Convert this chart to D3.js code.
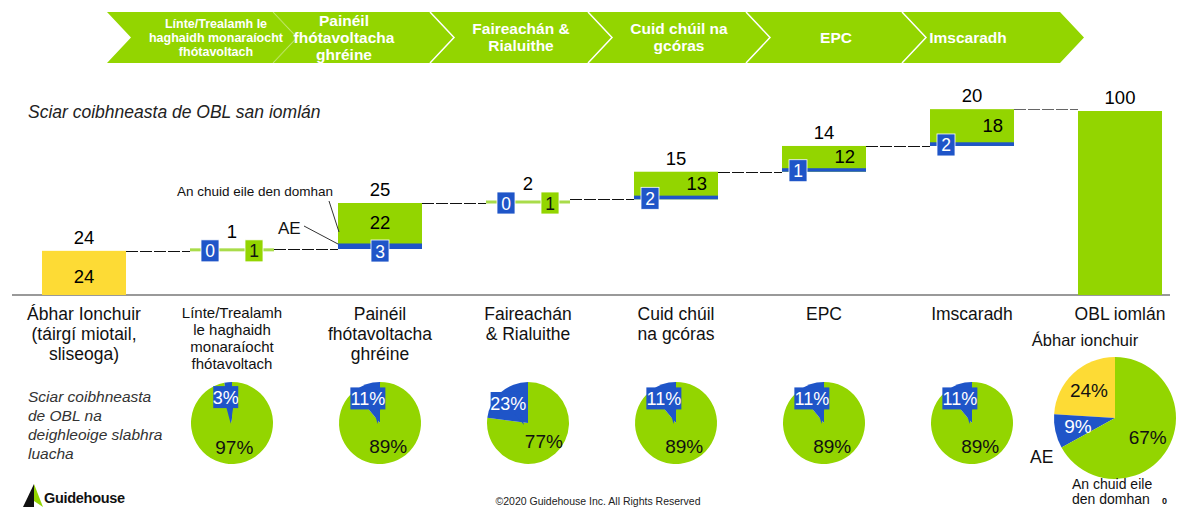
<!DOCTYPE html>
<html>
<head>
<meta charset="utf-8">
<script src="https://cdn.jsdelivr.net/npm/d3@7"></script>
<style>
  body { margin: 0; background: #fff; }
  svg { font-family: "Liberation Sans", Arial, sans-serif; }
</style>
</head>
<body>
<div id="chart"></div>
<script>
// value chain steps (chevrons)
const steps = [
    ["Línte/Trealamh le", "haghaidh monaraíocht", "fhótavoltach"],
    ["Painéil", "fhótavoltacha", "ghréine"],
    ["Faireachán &", "Rialuithe"],
    ["Cuid chúil na", "gcóras"],
    ["EPC"],
    ["Imscaradh"]
];

// waterfall categories
const categories = [
    ["Ábhar Ionchuir", "(táirgí miotail,", "sliseoga)"],
    ["Línte/Trealamh", "le haghaidh", "monaraíocht", "fhótavoltach"],
    ["Painéil", "fhótavoltacha", "ghréine"],
    ["Faireachán", "& Rialuithe"],
    ["Cuid chúil", "na gcóras"],
    ["EPC"],
    ["Imscaradh"],
    ["OBL iomlán"]
];
const totals = [24, 1, 25, 2, 15, 14, 20, 100];
const aeValues = [null, 0, 3, 0, 2, 1, 2, null];
const restValues = [24, 1, 22, 1, 13, 12, 18, 100];

// pie shares (AE share of each segment)
const pieAE = [3, 11, 23, 11, 11, 11];
const pieRest = [97, 89, 77, 89, 89, 89];
// input material total pie
const bigPieLabels = ["Ábhar ionchuir", "AE", "An chuid eile den domhan"];
const bigPieValues = [24, 9, 67];

const W = 1181, H = 508;
const green = "#93d500", blue = "#1f55c8", yellow = "#fddb35";

const svg = d3.select("#chart").append("svg")
    .attr("width", W)
    .attr("height", H);

// ---------- chevrons ----------
const chevStarts = [107, 273, 430, 588, 746, 902, 1060];
const chevTextX = [216, 344, 521, 679, 836, 968];
const tip = 24, cTop = 12, cBot = 63, cMid = 37.5;

steps.forEach((lines, i) => {
    const s = chevStarts[i], e = chevStarts[i + 1];
    const pts = [[s, cTop], [e, cTop], [e + tip, cMid], [e, cBot], [s, cBot], [s + tip, cMid]];
    svg.append("polygon")
        .attr("points", pts.map(p => p.join(",")).join(" "))
        .attr("fill", green);
});
steps.forEach((lines, i) => {
    if (i === 0) return;
    const s = chevStarts[i];
    svg.append("polyline")
        .attr("points", `${s},${cTop} ${s + tip},${cMid} ${s},${cBot}`)
        .attr("fill", "none")
        .attr("stroke", "#fff")
        .attr("stroke-opacity", i === 1 ? 0.2 : 1)
        .attr("stroke-width", 1.5);
});
steps.forEach((lines, i) => {
    const fs = i === 0 ? 12.5 : 15.5;
    const lh = i === 0 ? 14 : 17;
    const y0 = cMid - (lines.length - 1) * lh / 2 + fs * 0.35;
    const t = svg.append("text")
        .attr("text-anchor", "middle")
        .attr("fill", "#fff")
        .attr("font-weight", "bold")
        .attr("font-size", fs);
    lines.forEach((l, j) => {
        t.append("tspan").attr("x", chevTextX[i]).attr("y", y0 + j * lh).text(l);
    });
});

// ---------- waterfall ----------
const x = d3.scaleBand()
    .domain(d3.range(categories.length))
    .range([42, 1162])
    .paddingInner(64 / 148);
const y = d3.scaleLinear().domain([0, 100]).range([295, 111]);
const bw = x.bandwidth();

svg.append("text")
    .attr("x", 28).attr("y", 118)
    .attr("font-size", 17.5).attr("font-style", "italic").attr("fill", "#222")
    .text("Sciar coibhneasta de OBL san iomlán");

// running bases
const bases = [];
let run = 0;
totals.forEach((t, i) => {
    if (i === 0 || i === totals.length - 1) { bases.push(0); run = (i === 0 ? t : run); }
    else { bases.push(run); run += t; }
});
const tops = totals.map((t, i) => bases[i] + t);

// connectors
for (let i = 0; i < totals.length - 1; i++) {
    svg.append("line")
        .attr("x1", x(i) + bw).attr("x2", x(i + 1))
        .attr("y1", Math.round(y(tops[i])) + 0.5).attr("y2", Math.round(y(tops[i])) + 0.5)
        .attr("stroke", i === totals.length - 2 ? "#666" : "#111").attr("stroke-width", 1)
        .attr("stroke-dasharray", "12,2");
}

// axis line
svg.append("line")
    .attr("x1", 12).attr("x2", 1170)
    .attr("y1", y(0)).attr("y2", y(0))
    .attr("stroke", "#777").attr("stroke-width", 1.5);

function box(cx, cy, txt, fill, color) {
    const g = svg.append("g");
    g.append("rect")
        .attr("x", cx - 9).attr("y", cy - 11)
        .attr("width", 18).attr("height", 22)
        .attr("fill", fill)
        .attr("stroke", "#fff").attr("stroke-width", 0.8);
    g.append("text")
        .attr("x", cx).attr("y", cy + 6.5)
        .attr("text-anchor", "middle")
        .attr("font-size", 17.5)
        .attr("fill", color)
        .text(txt);
}

const numFs = 18.5;
totals.forEach((t, i) => {
    const x0 = x(i), cx = x0 + bw / 2;
    const b = bases[i];
    if (i === 0) {
        svg.append("rect").attr("x", x0).attr("y", y(t)).attr("width", bw)
            .attr("height", y(0) - y(t)).attr("fill", yellow);
        svg.append("text").attr("x", cx).attr("y", (y(0) + y(t)) / 2 + 10)
            .attr("text-anchor", "middle").attr("font-size", numFs).text(restValues[i]);
        svg.append("text").attr("x", cx).attr("y", y(t) - 7)
            .attr("text-anchor", "middle").attr("font-size", numFs).text(t);
        return;
    }
    if (i === totals.length - 1) {
        svg.append("rect").attr("x", x0).attr("y", y(t)).attr("width", bw)
            .attr("height", y(0) - y(t)).attr("fill", green);
        svg.append("text").attr("x", cx).attr("y", y(t) - 7)
            .attr("text-anchor", "middle").attr("font-size", numFs).text(t);
        return;
    }
    const ae = aeValues[i], rest = restValues[i];
    if (t <= 2) {
        // thin step
        const yb = y(b);
        svg.append("rect").attr("x", x0).attr("y", yb - 2.5).attr("width", bw)
            .attr("height", 3).attr("fill", "#a9dc4a");
        box(cx - 22, yb, ae, blue, "#fff");
        box(cx + 22, yb, rest, green, "#111");
        svg.append("text").attr("x", cx).attr("y", yb - 13)
            .attr("text-anchor", "middle").attr("font-size", numFs).text(t);
        return;
    }
    const aeH = Math.max(y(b) - y(b + ae), 3.5);
    svg.append("rect").attr("x", x0).attr("y", y(b + t)).attr("width", bw)
        .attr("height", y(b) - y(b + t)).attr("fill", green);
    svg.append("rect").attr("x", x0).attr("y", y(b) - aeH).attr("width", bw)
        .attr("height", aeH).attr("fill", blue);
    svg.append("text").attr("x", cx).attr("y", y(b + t) - 7)
        .attr("text-anchor", "middle").attr("font-size", numFs).text(t);
    if (i === 2) {
        svg.append("text").attr("x", cx).attr("y", (y(b + t) + y(b) - aeH) / 2 + 6)
            .attr("text-anchor", "middle").attr("font-size", numFs).text(rest);
        box(cx, y(b) + 2, ae, blue, "#fff");
    } else {
        svg.append("text").attr("x", x0 + bw - 11).attr("y", (y(b + t) + y(b) - aeH) / 2 + 6)
            .attr("text-anchor", "end").attr("font-size", numFs).text(rest);
        box(x0 + 16, y(b) - 1, ae, blue, "#fff");
    }
});

// annotation for Painéil bar
svg.append("text").attr("x", 177).attr("y", 196).attr("font-size", 13.5).attr("fill", "#111")
    .text("An chuid eile den domhan");
svg.append("line").attr("x1", 329).attr("y1", 201).attr("x2", 339).attr("y2", 232)
    .attr("stroke", "#333").attr("stroke-width", 1);
svg.append("text").attr("x", 278).attr("y", 234).attr("font-size", 17).attr("fill", "#111")
    .text("AE");
svg.append("line").attr("x1", 304).attr("y1", 226).attr("x2", 338).attr("y2", 244)
    .attr("stroke", "#333").attr("stroke-width", 1);

// category labels
categories.forEach((lines, i) => {
    const small = i === 1;
    const fs = small ? 15 : 17.5;
    const lh = small ? 17 : 20;
    const t = svg.append("text")
        .attr("text-anchor", "middle")
        .attr("font-size", fs)
        .attr("fill", "#111");
    lines.forEach((l, j) => {
        t.append("tspan").attr("x", x(i) + bw / 2).attr("y", (small ? 318 : 320) + j * lh).text(l);
    });
});

// ---------- pies ----------
const leftNote = ["Sciar coibhneasta", "de OBL na", "deighleoige slabhra", "luacha"];
const nt = svg.append("text").attr("font-size", 15.5).attr("font-style", "italic").attr("fill", "#333");
leftNote.forEach((l, j) => nt.append("tspan").attr("x", 28).attr("y", 402 + j * 19).text(l));

const pieCY = 423, pieR = 41;
const arc = d3.arc().innerRadius(0).outerRadius(pieR);
const labelArc = d3.arc().innerRadius(24).outerRadius(24);

pieAE.forEach((ae, k) => {
    const i = k + 1;
    const cx = x(i) + bw / 2;
    const g = svg.append("g").attr("transform", `translate(${cx},${pieCY})`);
    const aeAng = ae / 100 * 2 * Math.PI;
    const aeArc = { startAngle: -aeAng, endAngle: 0 };
    const restArc = { startAngle: 0, endAngle: 2 * Math.PI - aeAng };
    g.append("path").attr("d", arc(restArc)).attr("fill", green);
    g.append("path").attr("d", arc(aeArc)).attr("fill", blue);

    // blue callout label
    const [lx, ly] = labelArc.centroid(aeArc);
    const bx = lx - 4, by = ly - 2;
    const txt = ae + "%";
    const w = txt.length * 10 + 5, h = 22;
    g.append("path")
        .attr("d", `M${bx + w / 2 - 12},${by + h / 2 - 1} L${bx * 0.2},${by * 0.2 + 6} L${bx + w / 2 - 5},${by + h / 2 - 1} Z`)
        .attr("fill", blue);
    g.append("rect")
        .attr("x", bx - w / 2).attr("y", by - h / 2)
        .attr("width", w).attr("height", h)
        .attr("fill", blue);
    g.append("text").attr("x", bx).attr("y", by + 6.5)
        .attr("text-anchor", "middle").attr("font-size", 18).attr("fill", "#fff").text(txt);

    const [gx, gy] = labelArc.centroid(restArc);
    g.append("text").attr("x", gx).attr("y", gy + 7)
        .attr("text-anchor", "middle").attr("font-size", 19).attr("fill", "#111")
        .text(pieRest[k] + "%");
});

// big pie
const bigCX = 1115, bigCY = 418, bigR = 61;
const bigArc = d3.arc().innerRadius(0).outerRadius(bigR);
const bigLabel = d3.arc().innerRadius(38).outerRadius(38);
const bigFill = [yellow, blue, green];
const bigText = ["#111", "#fff", "#111"];
const gb = svg.append("g").attr("transform", `translate(${bigCX},${bigCY})`);
let acc = 0;
const bigArcs = bigPieValues.map(v => {
    const a = { startAngle: -(acc + v) / 100 * 2 * Math.PI, endAngle: -acc / 100 * 2 * Math.PI };
    acc += v;
    return a;
});
// green slice drawn clockwise from top
bigArcs[2] = { startAngle: 0, endAngle: bigPieValues[2] / 100 * 2 * Math.PI };
bigArcs.forEach((a, i) => {
    gb.append("path").attr("d", bigArc(a)).attr("fill", bigFill[i]);
});
bigArcs.forEach((a, i) => {
    const [lx, ly] = bigLabel.centroid(a);
    gb.append("text").attr("x", lx).attr("y", ly + 7)
        .attr("text-anchor", "middle").attr("font-size", 19).attr("fill", bigText[i])
        .text(bigPieValues[i] + "%");
});
svg.append("text").attr("x", 1085).attr("y", 346).attr("text-anchor", "middle")
    .attr("font-size", 16.5).attr("fill", "#111").text(bigPieLabels[0]);
svg.append("text").attr("x", 1030).attr("y", 463)
    .attr("font-size", 17.5).attr("fill", "#111").text(bigPieLabels[1]);
const rt = svg.append("text").attr("font-size", 14).attr("fill", "#111");
rt.append("tspan").attr("x", 1072).attr("y", 489).text("An chuid eile");
rt.append("tspan").attr("x", 1072).attr("y", 504).text("den domhan");
svg.append("text").attr("x", 1162).attr("y", 504).attr("font-size", 9)
    .attr("font-weight", "bold").attr("fill", "#111").text("0");

// ---------- footer ----------
svg.append("polygon").attr("points", "23,507 34,484 34,507").attr("fill", "#111");
svg.append("polygon").attr("points", "34,484 43,507 34,501").attr("fill", green);
svg.append("text").attr("x", 44).attr("y", 503).attr("font-size", 14.5)
    .attr("font-weight", "bold").attr("fill", "#111").attr("letter-spacing", -0.3).text("Guidehouse");
svg.append("text").attr("x", 598).attr("y", 505).attr("text-anchor", "middle")
    .attr("font-size", 10.5).attr("fill", "#222").text("©2020 Guidehouse Inc. All Rights Reserved");
</script>
</body>
</html>
